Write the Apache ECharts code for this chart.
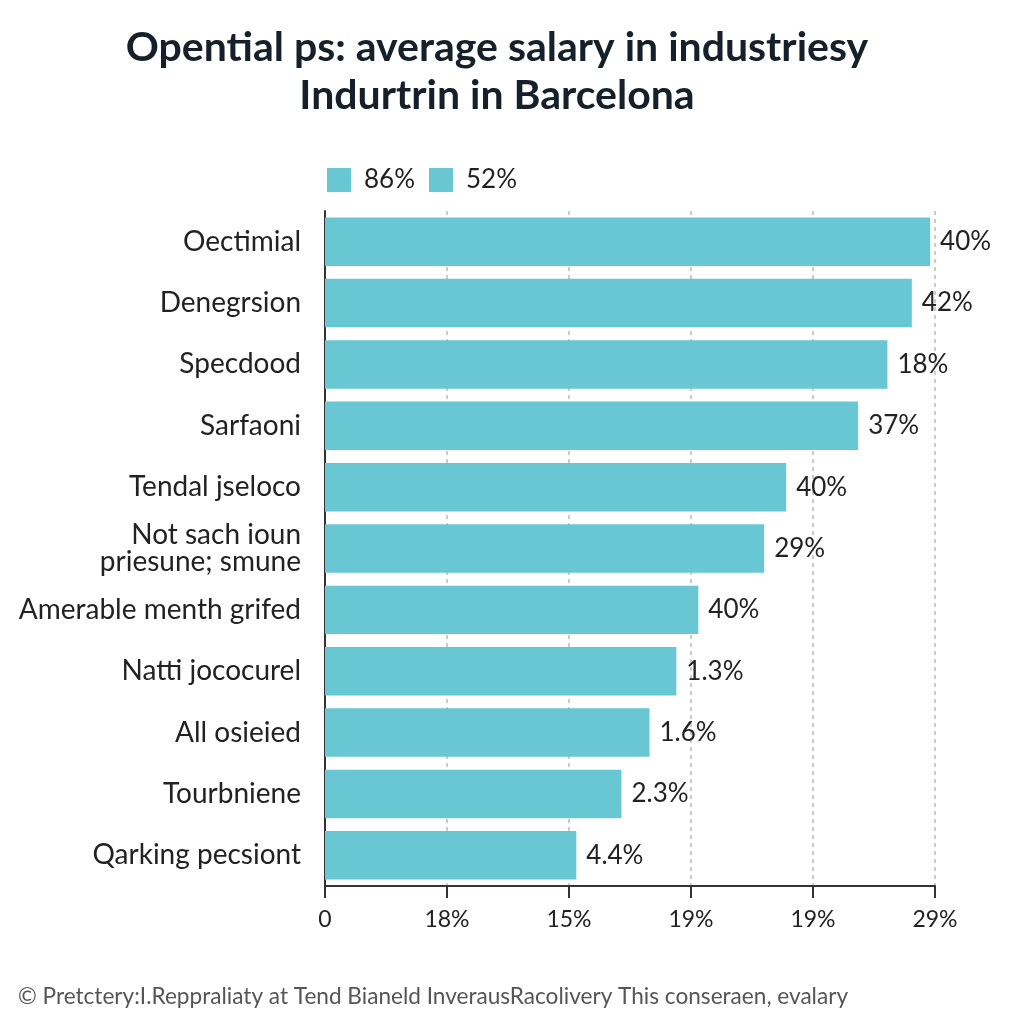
<!DOCTYPE html>
<html>
<head>
<meta charset="utf-8">
<script src="https://cdn.jsdelivr.net/npm/echarts@6/dist/echarts.min.js"></script>
<style>html,body{margin:0;padding:0;background:#fff;}#c{width:1024px;height:1024px;}</style>
</head>
<body>
<div id="c"></div>
<script>
const categories = ["Oectimial","Denegrsion","Specdood","Sarfaoni","Tendal jseloco","Not sach ioun\npriesune; smune","Amerable menth grifed","Natti jococurel","All osieied","Tourbniene","Qarking pecsiont"];
const values = [4.96, 4.81, 4.61, 4.37, 3.78, 3.60, 3.06, 2.88, 2.66, 2.43, 2.06];
const valueLabels = ["40%","42%","18%","37%","40%","29%","40%","1.3%","1.6%","2.3%","4.4%"];
const tickLabels = ["0","18%","15%","19%","19%","29%"];
const legendNames = ["86%","52%"];
const titleText = "Opential ps: average salary in industriesy\nIndurtrin in Barcelona";
const footerText = "© Pretctery:I.Reppraliaty at Tend Bianeld InverausRacolivery This conseraen, evalary";

const chart = echarts.init(document.getElementById('c'));
const barColor = '#68c7d3';
chart.setOption({
  backgroundColor: '#ffffff',
  animation: false,
  graphic: [{
    type: 'text', x: 497, y: 24,
    style: {text: titleText, align: 'center', verticalAlign: 'top', fontFamily: 'Lato', fontWeight: 'bold', fontSize: 41, lineHeight: 48, fill: '#16202a'}
  }, {
    type: 'text', left: 18, top: 985,
    style: {text: footerText, fontFamily: 'Lato', fontSize: 22.6, fill: '#555'}
  }],
  legend: {
    data: legendNames,
    left: 322, top: 162,
    itemWidth: 24, itemHeight: 24, itemGap: 14,
    icon: 'rect',
    textStyle: {fontFamily: 'Lato', fontSize: 26, color: '#222', padding: [0, 0, 0, 8]}
  },
  grid: {left: 325, right: 89, top: 211, bottom: 138, outerBoundsMode: 'none'},
  xAxis: {
    type: 'value', min: 0, max: 5, interval: 1,
    axisLine: {show: true, lineStyle: {color: '#333', width: 2}},
    axisTick: {show: true, length: 12, lineStyle: {color: '#333', width: 2}},
    splitLine: {show: true, lineStyle: {type: [4, 4], color: '#bbb', width: 1.5}},
    axisLabel: {
      margin: 22, fontFamily: 'Lato', fontSize: 23, color: '#222',
      formatter: v => tickLabels[Math.round(v)]
    }
  },
  yAxis: {
    type: 'category', data: categories, inverse: true,
    axisLine: {show: true, lineStyle: {color: '#333', width: 2}},
    axisTick: {show: false},
    axisLabel: {margin: 24, fontFamily: 'Lato', fontSize: 28, color: '#222', lineHeight: 27}
  },
  series: [{
    name: legendNames[0], type: 'bar', data: values, barCategoryGap: '21%',
    itemStyle: {color: barColor},
    label: {
      show: true, position: 'right', distance: 10,
      fontFamily: 'Lato', fontSize: 26, color: '#222',
      formatter: p => valueLabels[p.dataIndex]
    }
  }, {
    name: legendNames[1], type: 'bar', data: [], barGap: '-100%',
    itemStyle: {color: barColor}
  }]
});
</script>
</body>
</html>
